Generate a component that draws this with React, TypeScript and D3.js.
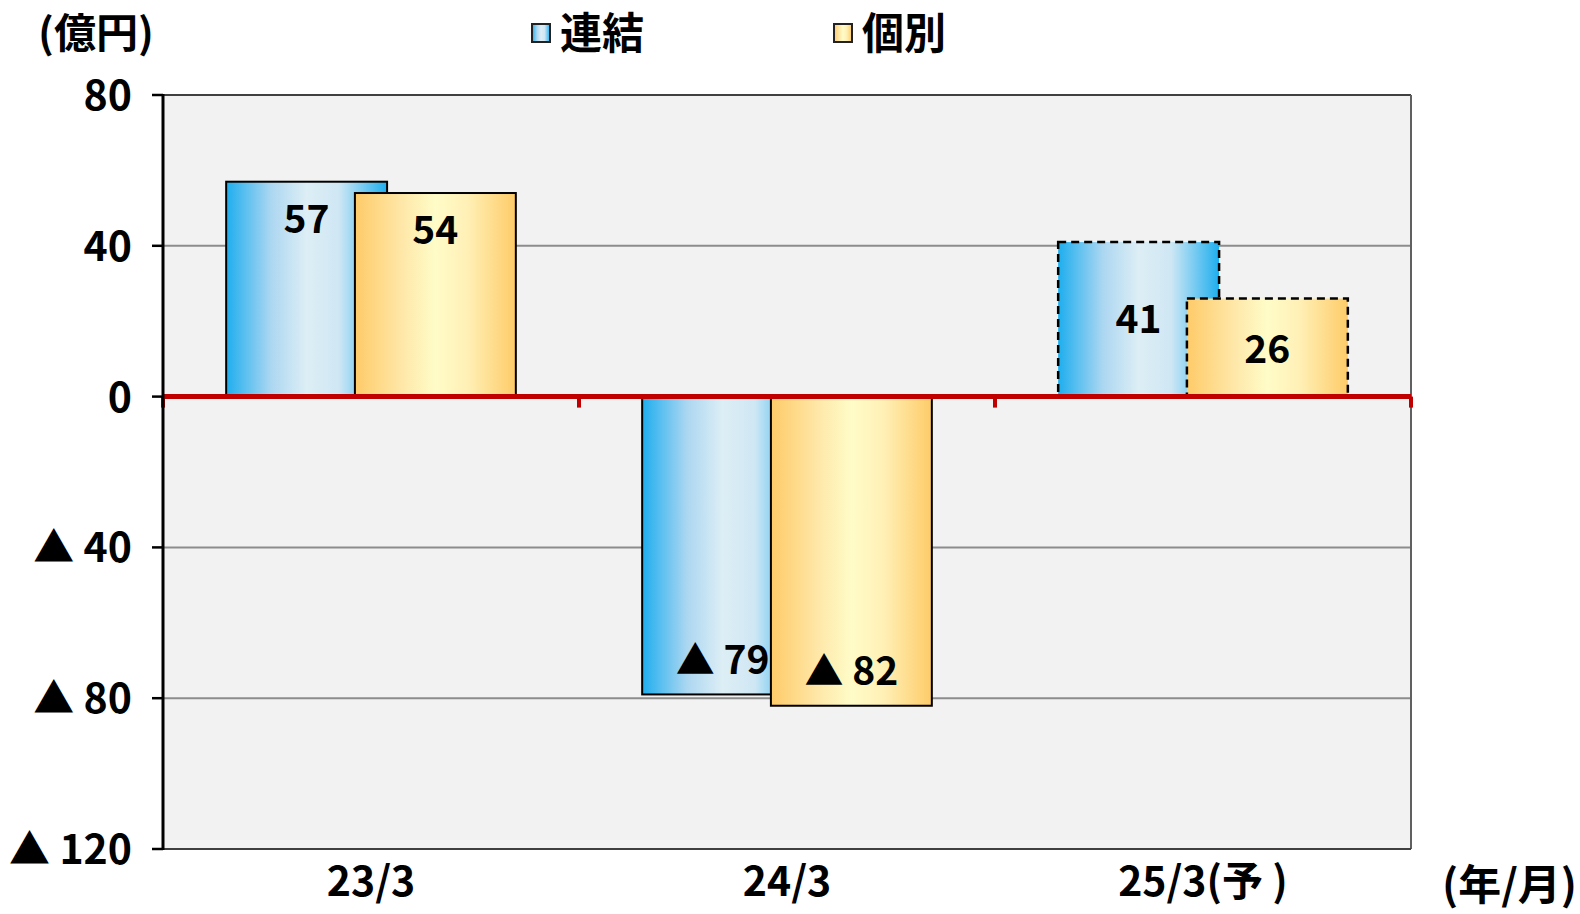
import React from "react";
import * as d3 from "d3";

const categories = ["23/3", "24/3", "25/3(予 )"];
const consolidated = [57, -79, 41];
const standalone = [54, -82, 26];
const isForecast = [false, false, true];
const yTicks = [80, 40, 0, -40, -80, -120];
// label anchor values (data units) as placed in the original
const consolidatedLabelAt = [47.2, -69.8, 20.6];
const standaloneLabelAt = [44.4, -72.6, 12.8];
const seriesNames = ["連結", "個別"];

const W = 1580;
const H = 914;
const M = { left: 163, right: 1411, top: 95, bottom: 849 };
const GAP = 0.785;
const OVERLAP = 0.2;
const FONT = "'Noto Sans CJK JP', 'Noto Sans', sans-serif";

const fmt = (v: number) => (v < 0 ? `▲ ${-v}` : `${v}`);

export default function App() {
  const x = d3.scaleBand<string>().domain(categories).range([M.left, M.right]).padding(0);
  const y = d3.scaleLinear().domain([-120, 80]).range([M.bottom, M.top]);
  const band = x.bandwidth();
  const bw = band / (2 - OVERLAP + GAP);
  const step = bw * (1 - OVERLAP);
  const groupW = bw + step;

  const series = [
    { name: seriesNames[0], values: consolidated, labels: consolidatedLabelAt, grad: "gBlue" },
    { name: seriesNames[1], values: standalone, labels: standaloneLabelAt, grad: "gYellow" },
  ];

  const fsLabel = 39;

  return (
    <svg
      width={W}
      height={H}
      style={{ position: "absolute", left: 0, top: 0, background: "#fff" }}
      fontFamily={FONT}
    >
      <defs>
        <linearGradient id="gBlue" x1="0" x2="1" y1="0" y2="0">
          <stop offset="0" stopColor="#1eaeee" />
          <stop offset="0.28" stopColor="#acd7f1" />
          <stop offset="0.5" stopColor="#ddeef5" />
          <stop offset="0.7" stopColor="#cfe7f4" />
          <stop offset="1" stopColor="#1eaeee" />
        </linearGradient>
        <linearGradient id="gYellow" x1="0" x2="1" y1="0" y2="0">
          <stop offset="0" stopColor="#fecb68" />
          <stop offset="0.28" stopColor="#fee6a6" />
          <stop offset="0.5" stopColor="#fffcc8" />
          <stop offset="0.7" stopColor="#fff0b6" />
          <stop offset="1" stopColor="#fecb68" />
        </linearGradient>
      </defs>

      {/* plot background */}
      <rect x={M.left} y={M.top} width={M.right - M.left} height={M.bottom - M.top} fill="#f2f2f2" />

      {/* gridlines */}
      {yTicks
        .filter((t) => t !== 0 && t !== 80 && t !== -120)
        .map((t) => (
          <line key={t} x1={M.left} x2={M.right} y1={y(t)} y2={y(t)} stroke="#8c8c8c" strokeWidth={2} />
        ))}

      {/* border */}
      <line x1={M.left} x2={M.right} y1={M.top} y2={M.top} stroke="#404040" strokeWidth={2} />
      <line x1={M.right} x2={M.right} y1={M.top} y2={M.bottom} stroke="#606060" strokeWidth={2} />
      <line x1={M.left} x2={M.right} y1={M.bottom} y2={M.bottom} stroke="#404040" strokeWidth={2} />

      {/* bars */}
      {series.map((s, si) =>
        s.values.map((v, i) => {
          const x0 = (x(categories[i]) as number) + (band - groupW) / 2 + si * step;
          const y0 = y(Math.max(0, v));
          const h = Math.abs(y(v) - y(0));
          return (
            <rect
              key={`${si}-${i}`}
              x={x0}
              y={y0}
              width={bw}
              height={h}
              fill={`url(#${s.grad})`}
              stroke="#000"
              strokeWidth={isForecast[i] ? 2.5 : 2}
              strokeDasharray={isForecast[i] ? "8 5" : undefined}
            />
          );
        })
      )}

      {/* data labels */}
      {series.map((s, si) =>
        s.values.map((v, i) => {
          const cx = (x(categories[i]) as number) + (band - groupW) / 2 + si * step + bw / 2;
          return (
            <text
              key={`l${si}-${i}`}
              x={cx}
              y={y(s.labels[i]) + 0.37 * fsLabel}
              textAnchor="middle"
              fontSize={fsLabel}
              fontWeight="bold"
              fill="#000"
            >
              {fmt(v)}
            </text>
          );
        })
      )}

      {/* zero line with ticks */}
      <line x1={M.left} x2={M.right} y1={y(0)} y2={y(0)} stroke="#c00000" strokeWidth={5} />
      {[0, 1, 2, 3].map((k) => {
        const xx = M.left + k * band;
        return <line key={k} x1={xx} x2={xx} y1={y(0)} y2={y(0) + 11} stroke="#c00000" strokeWidth={4} />;
      })}

      {/* y axis */}
      <line x1={M.left} x2={M.left} y1={M.top - 1} y2={M.bottom + 1} stroke="#000" strokeWidth={3} />
      {yTicks.map((t) => (
        <g key={t}>
          <line x1={152} x2={M.left} y1={y(t)} y2={y(t)} stroke="#000" strokeWidth={2.5} />
          <text x={132} y={y(t) + 15} textAnchor="end" fontSize={41} fontWeight="bold" fill="#000">
            {fmt(t)}
          </text>
        </g>
      ))}

      {/* x labels */}
      {categories.map((c) => (
        <text
          key={c}
          x={(x(c) as number) + band / 2}
          y={896}
          textAnchor="middle"
          fontSize={41}
          fontWeight="bold"
          fill="#000"
          style={{ whiteSpace: "pre" }}
        >
          {c}
        </text>
      ))}

      {/* unit labels */}
      <text x={38} y={48} fontSize={41} fontWeight="bold" fill="#000" textLength={116} lengthAdjust="spacingAndGlyphs">
        (億円)
      </text>
      <text x={1442} y={900} fontSize={42} fontWeight="bold" fill="#000" textLength={135} lengthAdjust="spacingAndGlyphs">
        (年/月)
      </text>

      {/* legend */}
      {[
        { name: seriesNames[0], grad: "gBlue", sx: 532 },
        { name: seriesNames[1], grad: "gYellow", sx: 834 },
      ].map((l) => (
        <g key={l.name}>
          <rect x={l.sx} y={24} width={18} height={18} fill={`url(#${l.grad})`} stroke="#222" strokeWidth={2} />
          <text x={l.sx + 28} y={49} fontSize={43} fontWeight="bold" fill="#000" textLength={84} lengthAdjust="spacingAndGlyphs">
            {l.name}
          </text>
        </g>
      ))}
    </svg>
  );
}
